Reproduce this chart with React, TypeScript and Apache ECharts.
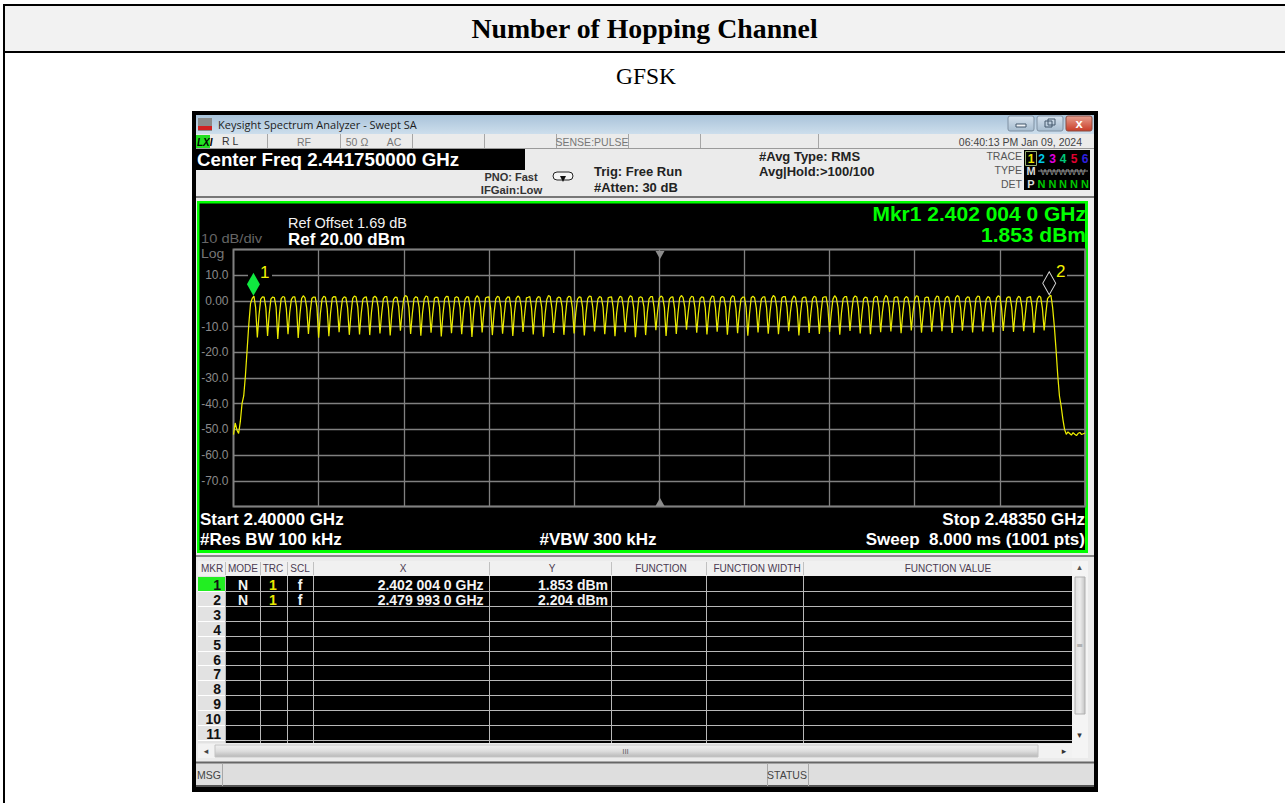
import React, { useEffect, useRef } from "react";
import * as echarts from "echarts";

// ---------- data ----------
const SPAN_MHZ = 83.5;
const Y_MIN = -80;
const Y_MAX = 20;
const Y_TICK_LABELS: Record<string, string> = {
  "10": "10.0", "0": "0.00", "-10": "-10.0", "-20": "-20.0", "-30": "-30.0",
  "-40": "-40.0", "-50": "-50.0", "-60": "-60.0", "-70": "-70.0",
};

// Trace (dBm), one value every second sweep point, 501 values over the span
const TRACE_DBM: number[] = [
  -52.0, -47.5, -50.2, -51.6, -47.0, -40.0, -37.0, -29.0, -19.0, -9.0, -1.0, 1.0, 1.85, -2.6,
  -14.2, -5.4, 0.7, 1.6, 1.5, -2.7,
  -13.6, -4.8, 0.8, 1.5, 1.3, -2.4,
  -14.8, -5.1, 0.9, 1.7, 1.4, -2.9,
  -13.0, -4.5, 0.6, 1.6, 1.6, -2.3,
  -14.4, -5.3, 1.0, 2.0, 1.2, -2.8,
  -12.9, -4.6, 0.9, 1.5, 1.5, -2.5,
  -14.3, -5.0, 0.7, 1.8, 1.4, -3.0,
  -13.7, -4.7, 1.1, 1.7, 1.6, -2.4,
  -12.2, -4.4, 0.8, 1.6, 1.3, -2.7,
  -13.2, -5.2, 1.0, 1.9, 1.5, -2.5,
  -13.1, -4.9, 0.7, 1.4, 1.6, -2.8,
  -13.3, -4.5, 1.2, 1.8, 1.2, -2.6,
  -12.7, -5.1, 0.8, 1.7, 1.7, -2.9,
  -13.4, -4.8, 0.6, 1.5, 1.4, -2.3,
  -11.6, -4.3, 1.1, 2.1, 1.5, -2.7,
  -12.9, -5.0, 0.9, 1.6, 1.3, -2.5,
  -13.5, -4.6, 0.7, 1.9, 1.6, -3.0,
  -12.4, -4.9, 1.0, 1.5, 1.4, -2.4,
  -13.8, -5.2, 0.8, 1.8, 1.7, -2.8,
  -12.6, -4.4, 1.2, 1.6, 1.2, -2.6,
  -13.0, -4.7, 0.6, 1.7, 1.5, -2.7,
  -14.0, -5.1, 0.9, 2.0, 1.3, -2.3,
  -12.3, -4.5, 1.1, 1.5, 1.6, -2.9,
  -13.3, -4.8, 0.8, 1.8, 1.4, -2.5,
  -12.8, -5.3, 0.7, 1.6, 1.5, -2.8,
  -13.6, -4.6, 1.0, 1.9, 1.3, -2.4,
  -12.1, -4.9, 1.2, 1.4, 1.7, -2.7,
  -13.1, -4.4, 0.8, 1.7, 1.4, -2.6,
  -13.9, -5.0, 0.6, 2.1, 1.6, -3.0,
  -12.5, -4.7, 0.9, 1.5, 1.2, -2.3,
  -13.2, -5.2, 1.1, 1.8, 1.5, -2.8,
  -12.7, -4.5, 0.7, 1.6, 1.4, -2.5,
  -13.4, -4.8, 1.0, 1.9, 1.7, -2.7,
  -11.9, -4.3, 0.8, 1.7, 1.3, -2.4,
  -13.0, -5.1, 1.2, 1.5, 1.6, -2.9,
  -13.7, -4.6, 0.6, 1.8, 1.4, -2.6,
  -12.2, -4.9, 0.9, 2.0, 1.5, -2.8,
  -14.1, -5.3, 1.1, 1.6, 1.2, -2.3,
  -13.3, -4.5, 0.8, 1.7, 1.7, -2.7,
  -11.4, -4.2, 1.0, 1.9, 1.4, -2.5,
  -13.6, -5.0, 0.7, 1.5, 1.6, -3.0,
  -12.9, -4.7, 1.2, 2.1, 1.3, -2.4,
  -11.2, -4.4, 0.8, 1.8, 1.5, -2.8,
  -12.4, -4.8, 0.9, 1.6, 1.4, -2.6,
  -13.1, -5.2, 0.6, 1.9, 1.7, -2.7,
  -12.0, -4.5, 1.1, 1.7, 1.3, -2.3,
  -13.2, -4.9, 1.0, 2.0, 1.6, -2.9,
  -12.6, -4.6, 0.7, 1.5, 1.5, -2.5,
  -13.5, -5.0, 1.2, 1.8, 1.2, -2.8,
  -12.3, -4.3, 0.8, 1.6, 1.6, -2.6,
  -12.8, -4.8, 0.9, 2.1, 1.4, -2.7,
  -13.0, -5.1, 1.1, 1.7, 1.7, -2.4,
  -11.8, -4.5, 0.6, 1.9, 1.3, -3.0,
  -13.4, -4.7, 1.0, 1.5, 1.5, -2.3,
  -12.5, -5.0, 0.8, 1.8, 1.4, -2.8,
  -12.9, -4.4, 1.2, 1.6, 1.6, -2.5,
  -12.1, -4.9, 0.7, 2.0, 1.2, -2.7,
  -13.2, -4.6, 0.9, 1.7, 1.7, -2.6,
  -11.7, -4.3, 1.1, 1.9, 1.5, -2.9,
  -12.7, -5.2, 0.8, 1.5, 1.3, -2.4,
  -13.0, -4.8, 1.0, 1.8, 1.6, -2.7,
  -12.2, -4.5, 0.6, 2.1, 1.4, -2.5,
  -11.9, -4.7, 1.2, 1.6, 1.5, -2.8,
  -12.6, -5.0, 0.9, 1.7, 1.2, -2.3,
  -11.5, -4.4, 0.8, 2.0, 1.7, -3.0,
  -12.4, -4.9, 1.1, 1.5, 1.4, -2.6,
  -12.0, -4.6, 0.7, 1.9, 1.6, -2.7,
  -11.8, -4.3, 1.0, 1.8, 1.3, -2.4,
  -12.5, -5.1, 1.2, 2.1, 1.5, -2.9,
  -11.6, -4.5, 0.8, 1.6, 1.4, -2.5,
  -12.3, -4.8, 0.9, 1.9, 1.7, -2.7,
  -11.9, -4.7, 0.6, 1.7, 1.2, -2.3,
  -12.2, -5.0, 1.1, 2.0, 1.6, -2.8,
  -11.7, -4.4, 1.0, 1.6, 1.5, -2.6,
  -12.1, -4.6, 0.7, 1.8, 1.3, -2.7,
  -11.8, -4.9, 1.2, 1.5, 1.7, -2.4,
  -12.4, -4.5, 0.8, 1.9, 1.4, -2.9,
  -11.5, -4.8, 0.9, 1.7, 2.204, -2.6,
  -10.0, -19.0, -29.0, -37.0, -41.0, -46.0, -50.0, -51.9,
  -51.0, -51.6, -52.2, -51.3, -51.9, -52.4, -51.5, -51.2, -52.0, -51.7, -51.4,
];
const MARKER_1: number[] = [2.004, 1.853];
const MARKER_2: number[] = [79.993, 2.204];

const PAGE_TITLE = "Number of Hopping Channel";
const PAGE_SUBTITLE = "GFSK";
const TABLE_HEADERS = ["MKR", "MODE", "TRC", "SCL", "X", "Y", "FUNCTION", "FUNCTION WIDTH", "FUNCTION VALUE"];
const ROW_LABELS = ["1", "2", "3", "4", "5", "6", "7", "8", "9", "10", "11"];
const MARKER_ROWS = [
  ["N", "1", "f", "2.402 004 0 GHz", "1.853 dBm"],
  ["N", "1", "f", "2.479 993 0 GHz", "2.204 dBm"],
];
const TRACE_NUMBERS = ["1", "2", "3", "4", "5", "6"];
const TRACE_COLORS = ["#e8e800", "#00c8e8", "#e000e0", "#00c878", "#e00030", "#3020e0"];

// ---------- layout ----------
const SANS = "'Liberation Sans', Arial, sans-serif";
const SERIF = "'Liberation Serif', serif";
const UI = "'Open Sans', 'Noto Sans', sans-serif";

type TOpt = { size?: number; bold?: boolean; color?: string; align?: string; family?: string; italic?: boolean; sx?: number };
const T = (x: number, y: number, text: string, o: TOpt = {}) => ({
  type: "text", x, y, z: 10, silent: true, scaleX: o.sx ?? 1, originX: 0, originY: 0,
  style: {
    text,
    fontSize: o.size ?? 12,
    fontWeight: o.bold ? "bold" : "normal",
    fontStyle: o.italic ? "italic" : "normal",
    fontFamily: o.family ?? SANS,
    fill: o.color ?? "#222222",
    textAlign: o.align ?? "left",
    align: o.align ?? "left",
    textVerticalAlign: "middle",
    verticalAlign: "middle",
  },
});
const R = (x: number, y: number, w: number, h: number, fill: any, z = -5, extra: any = {}) => ({
  type: "rect", z, silent: true, shape: { x, y, width: w, height: h, r: extra.r ?? 0 },
  style: { fill, stroke: extra.stroke ?? undefined, lineWidth: extra.lineWidth ?? 0 },
});
const L = (x1: number, y1: number, x2: number, y2: number, stroke: string, w = 1, z = -3) => ({
  type: "line", z, silent: true, shape: { x1, y1, x2, y2 }, style: { stroke, lineWidth: w },
});
const G = (stops: [number, string][], vertical = true) => ({
  type: "linear", x: 0, y: 0, x2: vertical ? 0 : 1, y2: vertical ? 1 : 0,
  colorStops: stops.map(([offset, color]) => ({ offset, color })),
});

function buildGraphics() {
  const e: any[] = [];
  // page table
  e.push(R(0, 0, 1285, 803, "#ffffff", -20));
  e.push(R(3, 4, 1282, 49, "#f2f2f2", -19));
  e.push(L(3, 5, 1285, 5, "#000000", 2, -18), L(3, 52, 1285, 52, "#000000", 2, -18), L(4, 4, 4, 803, "#000000", 2, -18));
  e.push(T(644.5, 29, PAGE_TITLE, { size: 27, bold: true, color: "#000000", align: "center", family: SERIF, sx: 1.03 }));
  e.push(T(646, 76, PAGE_SUBTITLE, { size: 23.5, color: "#000000", align: "center", family: SERIF }));

  // window frame
  e.push(R(192, 111, 906, 681, "#000000", -17));
  e.push(R(196, 115, 898, 671, "#ebebeb", -16));
  e.push(R(196, 115, 898, 19, G([[0, "#a9c3da"], [1, "#cddeec"]]), -15));
  e.push(R(198, 118, 14, 13, "#8a8a8a", -14), R(198, 126, 14, 4, "#d02020", -13));
  e.push(T(218, 124.5, "Keysight Spectrum Analyzer - Swept SA", { size: 11, family: UI, color: "#1c1c1c" }));
  e.push(R(1008, 116, 26, 15, G([[0, "#d6e2ee"], [1, "#a6bccf"]]), -14, { stroke: "#7f90a2", lineWidth: 1, r: 2 }));
  e.push(R(1037, 116, 26, 15, G([[0, "#d6e2ee"], [1, "#a6bccf"]]), -14, { stroke: "#7f90a2", lineWidth: 1, r: 2 }));
  e.push(R(1066, 116, 26, 15, G([[0, "#e8a090"], [1, "#c83c28"]]), -14, { stroke: "#8a4c40", lineWidth: 1, r: 2 }));
  e.push(R(1016, 124, 10, 3, "#eef2f6", -13, { stroke: "#44586c", lineWidth: 1 }));
  e.push(R(1045, 121, 7, 6, "none", -13, { stroke: "#44586c", lineWidth: 1 }), R(1048, 119, 7, 6, "none", -13, { stroke: "#44586c", lineWidth: 1 }));
  e.push(T(1079, 123.5, "x", { size: 13, bold: true, color: "#ffffff", align: "center" }));

  // status row
  e.push(L(196, 148.5, 1094, 148.5, "#9a9a9a", 1));
  [267, 340, 412, 484, 556, 628, 700, 818].forEach((x) => e.push(L(x + 0.5, 134, x + 0.5, 148, "#a6a6a6", 1)));
  e.push(R(196, 135, 14, 13, "#22e022", -4));
  e.push(T(197, 142, "LXI", { size: 10, bold: true, italic: true, color: "#000000" }));
  e.push(T(222, 141, "R L", { size: 10.5, color: "#333333" }));
  e.push(T(304, 141.5, "RF", { size: 10.5, color: "#777777", align: "center" }));
  e.push(T(357, 141.5, "50 Ω", { size: 10.5, color: "#777777", align: "center" }));
  e.push(T(394, 141.5, "AC", { size: 10.5, color: "#777777", align: "center" }));
  e.push(T(592, 141.5, "SENSE:PULSE", { size: 10.5, color: "#777777", align: "center" }));
  e.push(T(1082, 141.5, "06:40:13 PM Jan 09, 2024", { size: 10.5, color: "#444444", align: "right" }));

  // settings row
  e.push(R(196, 148, 329, 22, "#000000", -4));
  e.push(T(197, 160, "Center Freq 2.441750000 GHz", { size: 18, bold: true, color: "#ffffff", sx: 1.04 }));
  e.push(T(511, 176.5, "PNO: Fast", { size: 11, bold: true, color: "#333333", align: "center" }));
  e.push(T(511.5, 189.5, "IFGain:Low", { size: 11.3, bold: true, color: "#333333", align: "center" }));
  e.push(R(553, 172, 20, 8, "#f6f6f6", -3, { stroke: "#222222", lineWidth: 1, r: 4 }));
  e.push({ type: "polygon", z: -2, silent: true, shape: { points: [[560, 176], [566, 176], [563, 182]] }, style: { fill: "#111111" } });
  e.push(T(594, 171.5, "Trig: Free Run", { size: 13, bold: true, color: "#222222" }));
  e.push(T(594, 187, "#Atten: 30 dB", { size: 13, bold: true, color: "#222222" }));
  e.push(T(759, 156.5, "#Avg Type: RMS", { size: 13, bold: true, color: "#222222" }));
  e.push(T(759, 171.5, "Avg|Hold:>100/100", { size: 13, bold: true, color: "#222222" }));

  // trace legend
  e.push(T(1022, 156, "TRACE", { size: 10.5, color: "#555555", align: "right" }));
  e.push(T(1022, 170, "TYPE", { size: 10.5, color: "#555555", align: "right" }));
  e.push(T(1022, 184, "DET", { size: 10.5, color: "#555555", align: "right" }));
  e.push(R(1024, 150, 66, 40, "#000000", -4));
  e.push(R(1025.5, 151.5, 11, 14, "none", 5, { stroke: "#98b070", lineWidth: 1 }));
  const traceX = [1031, 1041.5, 1052.5, 1063, 1074, 1085];
  TRACE_NUMBERS.forEach((n, i) => e.push(T(traceX[i], 158.5, n, { size: 12, bold: true, color: TRACE_COLORS[i], align: "center" })));
  e.push(T(1031, 171, "M", { size: 11, bold: true, color: "#d8d8d8", align: "center" }));
  e.push(T(1063, 171, "WWWWW", { size: 9.5, color: "#8c8c8c", align: "center" }));
  e.push(L(1038, 171, 1088, 171, "#8c8c8c", 1, 9));
  e.push(T(1031, 183.5, "P", { size: 11, bold: true, color: "#d8d8d8", align: "center" }));
  traceX.slice(1).forEach((x) => e.push(T(x, 183.5, "N", { size: 11, bold: true, color: "#00c800", align: "center" })));

  // plot panel
  e.push(L(196, 197, 1094, 197, "#777777", 2));
  e.push(R(197, 201, 891, 352, "#00ff00", -4));
  e.push(R(199.5, 203.5, 885.5, 346.5, "#000000", -3));
  e.push(T(288, 223, "Ref Offset 1.69 dB", { size: 14.5, color: "#f2f2f2" }));
  e.push(T(288, 239.5, "Ref 20.00 dBm", { size: 16.5, bold: true, color: "#ffffff", sx: 1.03 }));
  e.push(T(201, 238.5, "10 dB/div", { size: 13, color: "#666666", sx: 1.13 }));
  e.push(T(201, 254, "Log", { size: 13, color: "#777777", sx: 1.08 }));
  e.push(T(1086, 213.5, "Mkr1 2.402 004 0 GHz", { size: 20, bold: true, color: "#00ff00", align: "right", sx: 1.05 }));
  e.push(T(1086, 234.5, "1.853 dBm", { size: 20, bold: true, color: "#00ff00", align: "right", sx: 1.05 }));
  e.push(T(200, 519.5, "Start 2.40000 GHz", { size: 17, bold: true, color: "#ffffff" }));
  e.push(T(200, 539, "#Res BW 100 kHz", { size: 17, bold: true, color: "#ffffff" }));
  e.push(T(598, 539, "#VBW 300 kHz", { size: 17, bold: true, color: "#ffffff", align: "center" }));
  e.push(T(1085, 519.5, "Stop 2.48350 GHz", { size: 17, bold: true, color: "#ffffff", align: "right" }));
  e.push(T(1085, 539, "Sweep  8.000 ms (1001 pts)", { size: 17, bold: true, color: "#ffffff", align: "right" }));
  // centre arrows
  e.push({ type: "polygon", z: 3, silent: true, shape: { points: [[655.5, 251], [664.5, 251], [660, 259]] }, style: { fill: "#8c8c8c" } });
  e.push({ type: "polygon", z: 3, silent: true, shape: { points: [[655.5, 506], [664.5, 506], [660, 498]] }, style: { fill: "#8c8c8c" } });
  // gaps in the 10 dB line behind the marker labels
  e.push(R(248, 270, 24, 10, "#000000", 1), R(1043, 270, 24, 10, "#000000", 1));

  // marker table
  e.push(L(196, 556, 1094, 556, "#888888", 2));
  e.push(R(198, 561, 874, 15, "#f0f0f0", -4));
  const sep = [225, 260, 287, 313, 489, 611, 706, 803];
  const headCx = [212, 243, 273, 300, 403, 552, 661, 757, 948];
  TABLE_HEADERS.forEach((h, i) => e.push(T(headCx[i], 568.5, h, { size: 10, color: "#4a3a50", align: "center" })));
  sep.forEach((x) => e.push(L(x + 0.5, 562, x + 0.5, 575, "#c0c0c0", 1)));
  e.push(R(225, 576, 847, 167, "#000000", -4));
  e.push(R(198, 576, 27, 167, "#e2e2e2", -4));
  e.push(R(198, 577, 27, 14, "#22ee22", -3));
  ROW_LABELS.forEach((lab, i) => {
    const y = 585 + i * 14.9;
    const ly = Math.round(576 + (i + 1) * 14.9) + 0.5;
    e.push(T(221, y, lab, { size: 14, bold: true, color: "#111111", align: "right" }));
    e.push(L(225, ly, 1072, ly, "#b8b8b8", 1, -2));
    e.push(L(198, ly, 225, ly, "#ffffff", 1, -2));
  });
  sep.forEach((x) => e.push(L(x + 0.5, 576, x + 0.5, 743, "#b8b8b8", 1, -2)));
  MARKER_ROWS.forEach((row, i) => {
    const y = 585 + i * 14.9;
    e.push(T(243, y, row[0], { size: 14, bold: true, color: "#f4f4f4", align: "center" }));
    e.push(T(273, y, row[1], { size: 14, bold: true, color: "#e8e800", align: "center" }));
    e.push(T(300, y, row[2], { size: 14, bold: true, color: "#f4f4f4", align: "center" }));
    e.push(T(483.5, y, row[3], { size: 14, bold: true, color: "#f4f4f4", align: "right" }));
    e.push(T(608, y, row[4], { size: 14, bold: true, color: "#f4f4f4", align: "right" }));
  });

  // scrollbars
  e.push(R(1072, 561, 16, 197, "#f4f4f4", -4));
  e.push(R(1075, 577, 10, 137, G([[0, "#dedede"], [0.5, "#ececec"], [1, "#c4c4c4"]], false), -3, { stroke: "#b0b0b0", lineWidth: 1 }));
  e.push(T(1079.5, 567, "▴", { size: 9, color: "#555555", align: "center", family: "'DejaVu Sans'" }));
  e.push(T(1079.5, 735, "▾", { size: 9, color: "#333333", align: "center", family: "'DejaVu Sans'" }));
  e.push(T(1079.5, 645, "≡", { size: 8, color: "#888888", align: "center", family: "'DejaVu Sans'" }));
  e.push(R(198, 744, 874, 14, "#f2f2f2", -4));
  e.push(R(215, 745, 823, 12, G([[0, "#f0f0f0"], [0.5, "#dedede"], [1, "#b8b8b8"]]), -3, { stroke: "#c4c4c4", lineWidth: 1 }));
  e.push(T(206, 751, "◂", { size: 9, color: "#444444", align: "center", family: "'DejaVu Sans'" }));
  e.push(T(1064, 751, "▸", { size: 9, color: "#333333", align: "center", family: "'DejaVu Sans'" }));
  e.push(T(625.5, 751, "III", { size: 8, color: "#666666", align: "center" }));

  // message bar
  e.push(R(196, 762, 898, 24, "#dedede", -4));
  e.push(L(196, 762.5, 1094, 762.5, "#666666", 2, -2));
  e.push(L(196, 786, 1094, 786, "#555555", 2, -2));
  [222, 767, 808].forEach((x) => e.push(L(x + 0.5, 763, x + 0.5, 786, "#a8a8a8", 1, -2)));
  e.push(T(209, 775, "MSG", { size: 10.5, color: "#444444", align: "center" }));
  e.push(T(787, 775, "STATUS", { size: 10.5, color: "#444444", align: "center" }));
  return e;
}

export default function App() {
  const ref = useRef<HTMLDivElement>(null);
  useEffect(() => {
    document.body.style.margin = "0";
    document.body.style.overflow = "hidden";
    const chart = echarts.init(ref.current!, undefined, { renderer: "svg" });
    const step = SPAN_MHZ / (TRACE_DBM.length - 1);
    chart.setOption({
      animation: false,
      backgroundColor: "#ffffff",
      grid: {
        left: 233.5, top: 249.5, width: 851.5, height: 257, show: true,
        backgroundColor: "#000000", borderColor: "#6e6e6e", borderWidth: 2, z: -1,
      },
      xAxis: {
        type: "value", min: 0, max: SPAN_MHZ, interval: SPAN_MHZ / 10,
        axisLine: { show: false }, axisTick: { show: false }, axisLabel: { show: false },
        splitLine: { show: true, lineStyle: { color: "#808080", width: 1.3 } },
      },
      yAxis: {
        type: "value", min: Y_MIN, max: Y_MAX, interval: 10,
        axisLine: { show: false }, axisTick: { show: false },
        axisLabel: {
          show: true, margin: 5, fontSize: 12, color: "#8a8a8a", fontFamily: SANS,
          formatter: (v: number) => Y_TICK_LABELS[String(v)] ?? "",
        },
        splitLine: { show: true, lineStyle: { color: "#808080", width: 1.3 } },
      },
      series: [
        {
          type: "line", name: "Trace 1", showSymbol: false, symbol: "none", z: 2,
          lineStyle: { color: "#ecec00", width: 1.25 },
          data: TRACE_DBM.map((v, i) => [i * step, v]),
        },
        {
          type: "scatter", name: "Marker 1", z: 4, symbol: "diamond", symbolSize: [13, 23], symbolOffset: [-0.5, -12],
          itemStyle: { color: "#10e840", opacity: 1 },
          label: { show: true, formatter: "1", position: "right", distance: 0, offset: [0, -12], color: "#f2f200", fontSize: 17, fontFamily: SANS },
          data: [MARKER_1],
        },
        {
          type: "scatter", name: "Marker 2", z: 4, symbol: "diamond", symbolSize: [13, 23], symbolOffset: [0, -12],
          itemStyle: { color: "rgba(0,0,0,0)", borderColor: "#d8d8d8", borderWidth: 1, opacity: 1 },
          label: { show: true, formatter: "2", position: "right", distance: 0, offset: [0, -12], color: "#f2f200", fontSize: 17, fontFamily: SANS },
          data: [MARKER_2],
        },
      ],
      graphic: { elements: buildGraphics() },
    });
    return () => chart.dispose();
  }, []);
  return <div ref={ref} style={{ position: "absolute", left: 0, top: 0, width: 1285, height: 803 }} />;
}
